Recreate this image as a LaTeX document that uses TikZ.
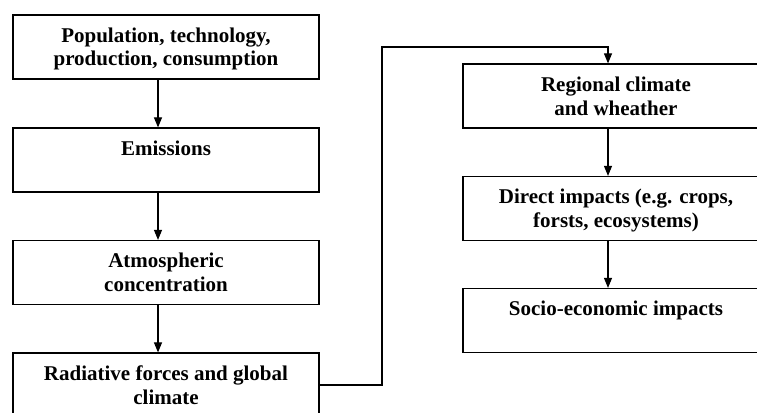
\documentclass[tikz,border=0pt]{standalone}
\usepackage{fontspec}
\setmainfont{Liberation Serif}
\usetikzlibrary{arrows.meta,calc}
\tikzset{
    block/.style = {draw, rectangle, line width=1.2pt,
        minimum width=306pt,
        minimum height=64pt,
        inner ysep=13pt, text height=14pt, text depth=24pt,
        align=center, font=\fontsize{21}{24}\selectfont\bfseries},
    twoline/.style = {text height=38pt, text depth=0pt},
    arrow/.style={draw, line width=1.1pt, -{Triangle[length=10pt,width=8pt]}}
}

\begin{document}
\begin{tikzpicture}[x=1pt, y=-1pt]
                \useasboundingbox (0,0) rectangle (757,412);
                \node[block,twoline] (pop) at (166,47) {Population, technology,\\production, consumption};
                \node[block] (emis) at (166,160) {Emissions};
                \node[block,twoline] (conc) at (166,272.5) {Atmospheric\\concentration};
                \node[block,twoline] (rad) at (166,385) {Radiative forces and global\\climate};
                \node[block,twoline] (reg) at (616,96) {Regional climate\\and wheather};
                \node[block,twoline] (dir) at (616,208.5) {Direct impacts (e.g. crops,\\forsts, ecosystems)};
                \node[block] (soc) at (616,320.5) {Socio-economic impacts};
                \coordinate (turn) at (382,47);
                \draw [arrow] ([xshift=-8pt]pop.south) -- ([xshift=-8pt]emis.north);
                \draw [arrow] ([xshift=-8pt]emis.south) -- ([xshift=-8pt]conc.north);
                \draw [arrow] ([xshift=-8pt]conc.south) -- ([xshift=-8pt]rad.north);
                \draw [arrow] (rad.east) -| (turn) -| ([xshift=-8pt]reg.north);
                \draw [arrow] ([xshift=-8pt]reg.south) -- ([xshift=-8pt]dir.north);
                \draw [arrow] ([xshift=-8pt]dir.south) -- ([xshift=-8pt]soc.north);
            \end{tikzpicture}
\end{document}
